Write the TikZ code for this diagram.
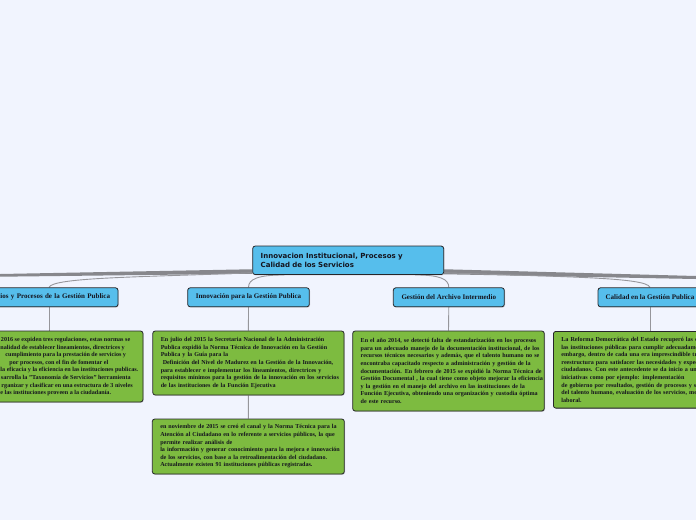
\documentclass[tikz,border=0pt]{standalone}
\usepackage{fontspec}
\setmainfont{Liberation Serif}
\newfontfamily\rootfont{DejaVu Sans}
\usetikzlibrary{shadows}
\definecolor{bgc}{RGB}{241,244,254}
\definecolor{bluec}{RGB}{86,190,236}
\definecolor{greenc}{RGB}{125,187,64}
\definecolor{bordc}{RGB}{38,38,42}
\definecolor{linec}{RGB}{150,150,155}
\definecolor{bandc}{RGB}{135,135,140}
\definecolor{txtc}{RGB}{20,20,30}
\newcommand\LL[1]{\mbox{#1}}
\pgfdeclarelayer{bg}
\pgfsetlayers{bg,main}
\begin{document}
\begin{tikzpicture}[x=1pt,y=-1pt,
  box/.style={draw=bordc, line width=0.8pt, rounded corners=2.5pt, text=txtc,
    drop shadow={shadow xshift=0.7pt, shadow yshift=-0.8pt, opacity=0.35}},
  rootbox/.style={box, fill=bluec, font=\rootfont\bfseries\fontsize{7}{9}\selectfont,
    text width=175pt, align=left, inner xsep=8pt, inner ysep=0pt, minimum height=28.5pt},
  head/.style={box, fill=bluec, font=\bfseries\fontsize{7}{8}\selectfont,
    inner sep=0pt, minimum height=19pt, align=center},
  note/.style={box, fill=greenc, font=\bfseries\fontsize{6.1}{7.6}\selectfont,
    align=left, inner xsep=8pt, inner ysep=0pt},
  notetext/.style={text=txtc, font=\bfseries\fontsize{6.1}{7.6}\selectfont, align=left, inner sep=0pt},
  link/.style={draw=linec, line width=0.9pt},
  band/.style={fill=bandc},
]
\useasboundingbox (0,0) rectangle (696,520);

% root
\node[rootbox] (root) at (348.2,260.3) {Innovacion Institucional, Procesos y\\Calidad de los Servicios};

% level 1
\node[head, minimum width=138pt, text width=122pt, align=right, inner xsep=8pt] (c1) at (49,297.3) {icios y Procesos de la Gestión Publica};
\node[head, minimum width=121.6pt] (c2) at (248.5,297.3) {Innovación para la Gestión Publica};
\node[head, minimum width=111pt] (c3) at (448.8,297.3) {Gestión del Archivo Intermedio};
\node[head, minimum width=104pt] (c4) at (650,297.3) {Calidad en la Gestión Publica};

% notes
\node[box, fill=greenc, minimum width=195pt, minimum height=71pt] (g1) at (45.5,366.5) {};
\node[notetext, anchor=west] (g1t) at (0.3,366.6) {%
\hspace*{0.5pt}2016 se expiden tres regulaciones, estas normas se\\
nalidad de establecer lineamientos, directrices y\\
\hspace*{5pt}cumplimiento para la prestación de servicios y\\
\hspace*{9pt}por procesos, con el fin de fomentar el\\
la eficacia y la eficiencia en las instituciones publicas.\\
\hspace*{0.5pt}sarrolla la "Taxonomía de Servicios" herramienta\\
\hspace*{1pt}rganizar y clasificar en una estructura de 3 niveles\\
e las instituciones proveen a la ciudadanía.};

\node[note, text width=175.3pt, minimum height=64pt] (g2) at (248.4,363) {%
\LL{En julio del 2015 la Secretaria Nacional de la Administración}\\
\LL{Publica expidió la Norma Técnica de Innovación en la Gestión}\\
\LL{Publica y la Guía para la}\\
\LL{\hspace*{2pt}Definición del Nivel de Madurez en la Gestión de la Innovación,}\\
\LL{para establecer e implementar los lineamientos, directrices y}\\
\LL{requisitos mínimos para la gestión de la innovación en los servicios}\\
\LL{de las instituciones de la Función Ejecutiva}};

\node[note, text width=176pt, minimum height=55pt] (g2b) at (248.3,446.5) {%
\LL{en noviembre de 2015 se creó el canal y la Norma Técnica para la}\\
\LL{Atención al Ciudadano en lo referente a servicios públicos, la que}\\
\LL{permite realizar análisis de}\\
\LL{la información y generar conocimiento para la mejora e innovación}\\
\LL{de los servicios, con base a la retroalimentación del ciudadano.}\\
\LL{Actualmente existen 91 instituciones públicas registradas.}};

\node[note, text width=175.6pt, minimum height=80pt] (g3) at (448.5,371) {%
\LL{En el año 2014, se detectó falta de estandarización en los procesos}\\
\LL{para un adecuado manejo de la documentación institucional, de los}\\
\LL{recursos técnicos necesarios y además, que el talento humano no se}\\
\LL{encontraba capacitado respecto a administración y gestión de la}\\
\LL{documentación. En febrero de 2015 se expidió la Norma Técnica de}\\
\LL{Gestión Documental , la cual tiene como objeto mejorar la eficiencia}\\
\LL{y la gestión en el manejo del archivo en las instituciones de la}\\
\LL{Función Ejecutiva, obteniendo una organización y custodia óptima}\\
\LL{de este recurso.}};

\node[note, anchor=north west, text width=190pt, minimum height=76.7pt] (g4) at (553,331) {%
\LL{La Reforma Democrática del Estado recuperó las cap}\\
\LL{las instituciones públicas para cumplir adecuadamen}\\
\LL{embargo, dentro de cada una era imprescindible trab}\\
\LL{reestructura para satisfacer las necesidades y expecta}\\
\LL{ciudadanos. Con este antecedente se da inicio a una s}\\
\LL{iniciativas como por ejemplo: implementación}\\
\LL{de gobierno por resultados, gestión de procesos y ser}\\
\LL{del talento humano, evaluación de los servicios, medi}\\
\LL{laboral.}};

% off-canvas branch ends
\coordinate (offL) at (0,275.3);
\coordinate (offR) at (696,277.5);

\begin{pgfonlayer}{bg}
\fill[bgc] (0,0) rectangle (696,520);
% thick branches leaving the picture
\fill[band] ([yshift=5.7pt]root.south west) -- ([yshift=1.3pt]offL) -- ([yshift=-1.4pt]offL) -- ([yshift=1.2pt]root.south west) -- cycle;
\fill[band] ([yshift=5.7pt]root.south east) -- ([yshift=1.5pt]offR) -- ([yshift=-1.5pt]offR) -- ([yshift=0.7pt]root.south east) -- cycle;
% curved links to level 1
\draw[link] ([yshift=2.2pt]root.south west) .. controls (150,277) and (52,277) .. (c1.north);
\draw[link] ([xshift=32pt]root.south west) .. controls (258,275) and (248.5,279) .. (c2.north);
\draw[link] ([xshift=-29pt]root.south east) .. controls (440,275) and (448.8,279) .. (c3.north);
\draw[link] ([yshift=2.2pt]root.south east) .. controls (560,277) and (647,277) .. (c4.north);
% vertical links
\draw[link] (c1.south) -- (c1.south |- g1.north);
\draw[link] (c2.south) -- (g2.north);
\draw[link] (g2.south) -- (g2b.north);
\draw[link] (c3.south) -- (g3.north);
\draw[link] (c4.south) -- (c4.south |- g4.north);
\end{pgfonlayer}
\end{tikzpicture}
\end{document}
